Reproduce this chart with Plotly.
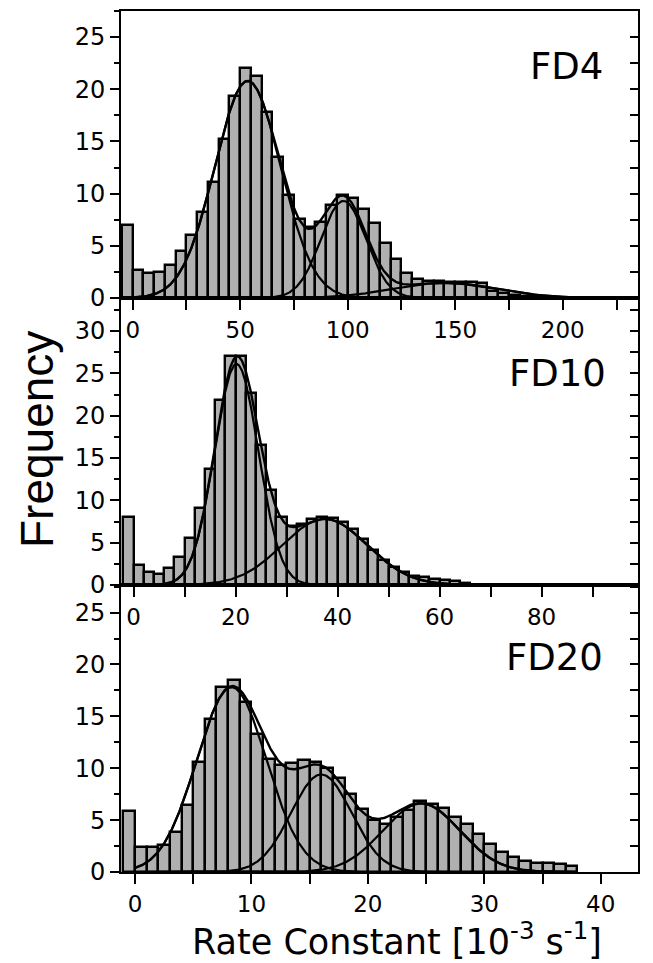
import numpy as np
import plotly.graph_objects as go

# ---------------- data ----------------
panel_labels = ["FD4", "FD10", "FD20"]

# FD4: bins of width 5 starting at -5
fd4_bin_left = list(range(-5, 195, 5))
fd4_counts = [7.0, 2.7, 2.4, 2.5, 3.2, 4.5, 6.0, 8.2, 11.1, 15.2,
              19.4, 22.0, 21.3, 17.8, 13.5, 9.9, 7.6, 6.8, 7.3, 8.9,
              9.9, 9.6, 8.5, 7.2, 5.3, 3.7, 2.4, 1.8, 1.6, 1.6,
              1.55, 1.5, 1.5, 1.45, 0.65, 0.5, 0.3, 0.2, 0.15, 0.1]
fd4_bin_width = 5
fd4_centers = [53.5, 98.0, 145.0]
fd4_amps = [20.8, 9.3, 1.45]
fd4_sigmas = [15.3, 10.5, 24.0]
fd4_curve_span = [0, 210]

# FD10: bins of width 2 starting at -2
fd10_bin_left = list(range(-2, 66, 2))
fd10_counts = [8.0, 2.4, 1.5, 1.3, 2.0, 3.3, 5.6, 9.1, 13.7, 21.9,
               27.0, 27.0, 22.7, 16.5, 11.2, 8.0, 7.0, 7.2, 7.8, 8.0,
               7.9, 7.4, 6.6, 5.4, 4.1, 3.0, 2.1, 1.5, 1.1, 0.9,
               0.75, 0.65, 0.45, 0.2]
fd10_bin_width = 2
fd10_centers = [20.2, 37.5]
fd10_amps = [26.1, 7.8]
fd10_sigmas = [4.3, 8.3]
fd10_curve_span = [0, 68]

# FD20: bins of width 1 starting at -1
fd20_bin_left = list(range(-1, 38, 1))
fd20_counts = [5.9, 2.45, 2.4, 2.6, 3.9, 6.5, 10.6, 14.7, 17.8, 18.5,
               16.4, 13.3, 10.9, 10.3, 10.5, 10.8, 10.6, 10.0, 9.1, 7.5,
               6.1, 5.0, 4.6, 5.3, 6.0, 6.8, 6.6, 6.2, 5.3, 4.6,
               3.7, 2.7, 1.9, 1.4, 1.05, 0.9, 0.85, 0.8, 0.6]
fd20_bin_width = 1
fd20_centers = [8.3, 16.0, 24.6]
fd20_amps = [17.8, 9.4, 6.6]
fd20_sigmas = [3.0, 2.6, 3.3]
fd20_curve_span = [0, 38]

x_ranges = [[-5.44, 235.0], [-2.45, 98.9], [-1.2, 43.2]]
y_ranges = [[0, 27.5], [0, 33.9], [0, 27.66]]
x_dticks = [50, 20, 10]
x_minor = [25, 10, 5]
y_top_ticks = [25, 30, 25]

x_title = "Rate Constant [10<sup>-3</sup> s<sup>-1</sup>]"
y_title = "Frequency"

# ---------------- figure ----------------
FONT = "DejaVu Sans"
FONT_Y = "Liberation Sans"
BAR_FILL = "#b0b0b0"
INK = "black"

panels = [
    (fd4_bin_left, fd4_counts, fd4_bin_width, fd4_centers, fd4_amps, fd4_sigmas, fd4_curve_span),
    (fd10_bin_left, fd10_counts, fd10_bin_width, fd10_centers, fd10_amps, fd10_sigmas, fd10_curve_span),
    (fd20_bin_left, fd20_counts, fd20_bin_width, fd20_centers, fd20_amps, fd20_sigmas, fd20_curve_span),
]

domains = [[2 / 3, 1.0], [1 / 3, 2 / 3], [0.0, 1 / 3]]

fig = go.Figure()
layout = {}

for i, (left, counts, w, cens, amps, sigs, span) in enumerate(panels):
    n = i + 1
    xa = "x" if n == 1 else f"x{n}"
    ya = "y" if n == 1 else f"y{n}"
    xkey = "xaxis" if n == 1 else f"xaxis{n}"
    ykey = "yaxis" if n == 1 else f"yaxis{n}"

    centers_bins = [l + w / 2 for l in left]
    fig.add_trace(go.Bar(
        x=centers_bins, y=counts, width=[w] * len(counts),
        marker=dict(color=BAR_FILL, line=dict(color=INK, width=2.4)),
        xaxis=xa, yaxis=ya, showlegend=False, hoverinfo="skip"))

    xs = np.linspace(span[0], span[1], 600)
    total = np.zeros_like(xs)
    for c, a, s in zip(cens, amps, sigs):
        g = a * np.exp(-(xs - c) ** 2 / (2 * s ** 2))
        total += g
        fig.add_trace(go.Scatter(x=xs, y=g, mode="lines",
                                 line=dict(color=INK, width=2.2),
                                 xaxis=xa, yaxis=ya, showlegend=False, hoverinfo="skip"))
    fig.add_trace(go.Scatter(x=xs, y=total, mode="lines",
                             line=dict(color=INK, width=2.4),
                             xaxis=xa, yaxis=ya, showlegend=False, hoverinfo="skip"))

    layout[xkey] = dict(
        domain=[0, 1], anchor=ya, range=x_ranges[i],
        showline=True, linecolor=INK, linewidth=2, mirror=True,
        ticks="outside", ticklen=10, tickwidth=2, tickcolor=INK,
        dtick=x_dticks[i], tick0=0,
        minor=dict(dtick=x_minor[i], tick0=0, ticks="outside", ticklen=10,
                   tickwidth=2, tickcolor=INK),
        showgrid=False, zeroline=False,
        tickfont=dict(family=FONT, size=23, color=INK),
        ticklabelstandoff=0,
    )
    layout[ykey] = dict(
        domain=domains[i], anchor=xa, range=y_ranges[i],
        showline=True, linecolor=INK, linewidth=2, mirror=True,
        ticks="outside", ticklen=9, tickwidth=2, tickcolor=INK,
        tickvals=list(range(0, y_top_ticks[i] + 1, 5)),
        minor=dict(dtick=2.5, tick0=0, ticks="outside", ticklen=5,
                   tickwidth=2, tickcolor=INK),
        showgrid=False, zeroline=False,
        tickfont=dict(family=FONT, size=24, color=INK),
    )
    # right-side inner ticks
    rkey = f"yaxis{n + 3}"
    layout[rkey] = dict(
        domain=domains[i], anchor=xa, overlaying=ya, side="right",
        range=y_ranges[i], showline=False, showgrid=False, zeroline=False,
        ticks="inside", ticklen=8, tickwidth=2, tickcolor=INK,
        dtick=2.5, tick0=0, showticklabels=False,
    )
    fig.add_trace(go.Scatter(x=[None], y=[None], xaxis=xa, yaxis=f"y{n + 3}",
                             showlegend=False, hoverinfo="skip"))

fig.update_layout(**layout)

annotations = []
label_pos = [(0.936, 0.936), (0.942, 0.579), (0.936, 0.249)]
for lbl, (xx, yy) in zip(panel_labels, label_pos):
    annotations.append(dict(text=lbl, xref="paper", yref="paper", x=xx, y=yy,
                            xanchor="right", yanchor="middle", showarrow=False,
                            font=dict(family=FONT, size=37, color=INK)))
annotations.append(dict(text=x_title, xref="paper", yref="paper", x=0.534, y=-0.049,
                        xanchor="center", yanchor="top", showarrow=False,
                        font=dict(family=FONT, size=35, color=INK)))
annotations.append(dict(text=y_title, xref="paper", yref="paper", x=-0.162, y=0.502,
                        xanchor="center", yanchor="middle", showarrow=False, textangle=-90,
                        font=dict(family=FONT_Y, size=46, color=INK)))

fig.update_layout(
    width=645, height=955,
    margin=dict(l=113, r=15, t=1, b=91),
    paper_bgcolor="white", plot_bgcolor="white",
    bargap=0, showlegend=False,
    annotations=annotations,
    font=dict(family=FONT, color=INK),
)

fig.write_html("out.html")
